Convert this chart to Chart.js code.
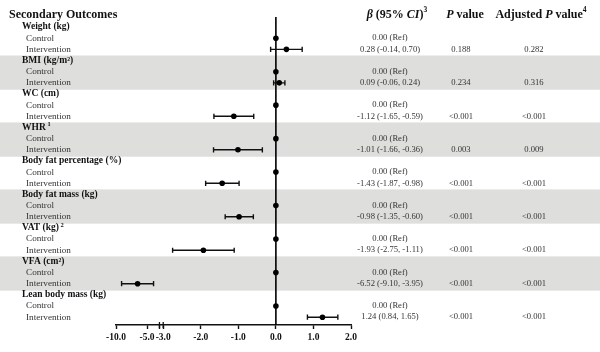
<!DOCTYPE html>
<html>
<head>
<meta charset="utf-8">
<script src="https://cdn.jsdelivr.net/npm/chart.js@4.4.0/dist/chart.umd.min.js"></script>
<style>
  html, body { margin: 0; padding: 0; background: #fff; }
</style>
</head>
<body>
<canvas id="forest" width="600" height="352"></canvas>
<script>
const SERIF = "'Liberation Serif', 'Times New Roman', serif";

// each outcome takes three rows: header, Control, Intervention
const outcomes = ['Weight (kg)', 'BMI (kg/m²)', 'WC (cm)', 'WHR', 'Body fat percentage (%)',
    'Body fat mass (kg)', 'VAT (kg)', 'VFA (cm²)', 'Lean body mass (kg)'];
const outcomeNotes = ['', '', '', '1', '', '', '2', '', ''];
const arms = ['Control', 'Intervention'];

const controlBeta = [0, 0, 0, 0, 0, 0, 0, 0, 0];
const beta   = [0.28, 0.09, -1.12, -1.01, -1.43, -0.98, -1.93, -6.52, 1.24];
const ciLow  = [-0.14, -0.06, -1.65, -1.66, -1.87, -1.35, -2.75, -9.10, 0.84];
const ciHigh = [0.70, 0.24, -0.59, -0.36, -0.98, -0.60, -1.11, -3.95, 1.65];
const pValue = ['0.188', '0.234', '<0.001', '0.003', '<0.001', '<0.001', '<0.001', '<0.001', '<0.001'];
const adjP   = ['0.282', '0.316', '<0.001', '0.009', '<0.001', '<0.001', '<0.001', '<0.001', '<0.001'];

// broken x axis: compressed part left of the break
const leftTicks = [-10, -5, -3];
const rightTicks = [-3, -2, -1, 0, 1, 2];
const breakAt = -3;

const yMin = -0.9, yMax = 26.7;
const axisFor = v => (v < breakAt ? 'xL' : 'xR');

let points = [];
beta.forEach((b, g) => {
    points.push({x: controlBeta[g], y: 3 * g + 1});
    points.push({x: b, y: 3 * g + 2});
});

const pointStyle = {
    type: 'scatter', showLine: false, pointRadius: 2.8, pointHoverRadius: 2.8,
    backgroundColor: '#000', borderColor: '#000', borderWidth: 0
};

let datasets = [
    Object.assign({data: points.filter(p => p.x < breakAt), xAxisID: 'xL'}, pointStyle),
    Object.assign({data: points.filter(p => p.x >= breakAt), xAxisID: 'xR'}, pointStyle)
];

// confidence intervals with end caps
beta.forEach((b, g) => {
    datasets.push({
        type: 'scatter',
        data: [{x: ciLow[g], y: 3 * g + 2}, {x: ciHigh[g], y: 3 * g + 2}],
        xAxisID: axisFor(ciHigh[g]),
        showLine: true,
        borderColor: '#111',
        borderWidth: 1.4,
        pointStyle: 'line',
        rotation: 90,
        pointRadius: 2.6,
        pointHoverRadius: 2.6,
        pointBorderWidth: 1.4,
        pointBorderColor: '#111'
    });
});

// zero reference line
datasets.push({
    type: 'scatter',
    data: [{x: 0, y: yMin}, {x: 0, y: yMax}],
    xAxisID: 'xR',
    showLine: true,
    borderColor: '#000',
    borderWidth: 1.6,
    pointRadius: 0,
    clip: false
});

function rich(ctx, parts, x, y, align) {
    let w = 0;
    parts.forEach(p => { ctx.font = p[1]; w += ctx.measureText(p[0]).width; });
    let cx = align === 'center' ? x - w / 2 : x;
    ctx.textAlign = 'left';
    parts.forEach(p => {
        ctx.font = p[1];
        ctx.fillText(p[0], cx, y - (p[2] || 0));
        cx += ctx.measureText(p[0]).width;
    });
}

const decor = {
    id: 'decor',
    beforeDraw(chart) {
        const {ctx, scales: {y}} = chart;
        ctx.save();
        ctx.fillStyle = '#dededc';
        outcomes.forEach((o, g) => {
            if (g % 2 === 1) {
                const t = y.getPixelForValue(3 * g - 0.45);
                const b = y.getPixelForValue(3 * g + 2.62);
                ctx.fillRect(0, t, chart.width, b - t);
            }
        });
        ctx.restore();
    },
    afterDraw(chart) {
        const {ctx, scales: {y, xL, xR}} = chart;
        const B = 'bold 12px ' + SERIF, BI = 'italic bold 12px ' + SERIF, SUP = 'bold 7.5px ' + SERIF;
        const colBeta = 390, colP = 461, colAdj = 534;
        ctx.save();

        // break marks across the axis line
        ctx.strokeStyle = '#111';
        ctx.lineWidth = 1.3;
        [xL.getPixelForValue(breakAt), xR.getPixelForValue(breakAt)].forEach(px => {
            ctx.beginPath();
            ctx.moveTo(px, xL.top - 3);
            ctx.lineTo(px, xL.top + 3);
            ctx.stroke();
        });

        ctx.textBaseline = 'middle';
        ctx.fillStyle = '#111';

        // column headers
        const hy = 15;
        rich(ctx, [['Secondary Outcomes', B]], 9, hy, 'left');
        rich(ctx, [['β', BI], [' (95% ', B], ['CI', BI], [')', B], ['3', SUP, 5]], 397, hy, 'center');
        rich(ctx, [['P', BI], [' value', B]], 465, hy, 'center');
        rich(ctx, [['Adjusted ', B], ['P', BI], [' value', B], ['4', SUP, 5]], 541, hy, 'center');

        outcomes.forEach((o, g) => {
            const yh = y.getPixelForValue(3 * g);
            const yc = y.getPixelForValue(3 * g + 1);
            const yi = y.getPixelForValue(3 * g + 2);
            ctx.fillStyle = '#111';
            const parts = [[o, 'bold 9.5px ' + SERIF]];
            if (outcomeNotes[g]) parts.push([' ' + outcomeNotes[g], 'bold 6.5px ' + SERIF, 3]);
            rich(ctx, parts, 22, yh, 'left');

            ctx.fillStyle = '#333';
            ctx.font = '9.2px ' + SERIF;
            ctx.textAlign = 'left';
            ctx.fillText(arms[0], 26, yc);
            ctx.fillText(arms[1], 26, yi);

            ctx.font = '8.6px ' + SERIF;
            ctx.textAlign = 'center';
            ctx.fillText(controlBeta[g].toFixed(2) + ' (Ref)', colBeta, yc);
            ctx.fillText(beta[g].toFixed(2) + ' (' + ciLow[g].toFixed(2) + ', ' + ciHigh[g].toFixed(2) + ')', colBeta, yi);
            ctx.fillText(pValue[g], colP, yi);
            ctx.fillText(adjP[g], colAdj, yi);
        });
        ctx.restore();
    }
};

function xAxis(min, max, ticks, weight, labelled) {
    return {
        type: 'linear',
        position: 'bottom',
        stack: 'x',
        stackWeight: weight,
        min: min,
        max: max,
        afterBuildTicks: s => { s.ticks = ticks.map(v => ({value: v})); },
        afterFit: s => { s.height = 22; },
        grid: {drawOnChartArea: false, drawTicks: true, tickLength: 4, tickColor: '#111', tickWidth: 1.4},
        border: {display: true, color: '#111', width: 1.4},
        ticks: {
            autoSkip: false, maxRotation: 0, padding: 3, color: '#111',
            font: {family: SERIF, size: 9.5, weight: 'bold'},
            callback: v => (labelled(v) ? v.toFixed(1) : '')
        }
    };
}

new Chart(document.getElementById('forest'), {
    type: 'scatter',
    data: {datasets: datasets},
    options: {
        responsive: false,
        animation: false,
        events: [],
        layout: {padding: {left: 116, right: 249, top: 17, bottom: 5}},
        plugins: {legend: {display: false}, tooltip: {enabled: false}},
        scales: {
            xL: xAxis(-10, -3, leftTicks, 43.4, v => v !== breakAt),
            xR: xAxis(-3.1, 2, rightTicks, 191.3, v => true),
            y: {type: 'linear', min: yMin, max: yMax, reverse: true, display: false}
        }
    },
    plugins: [decor]
});
</script>
</body>
</html>
